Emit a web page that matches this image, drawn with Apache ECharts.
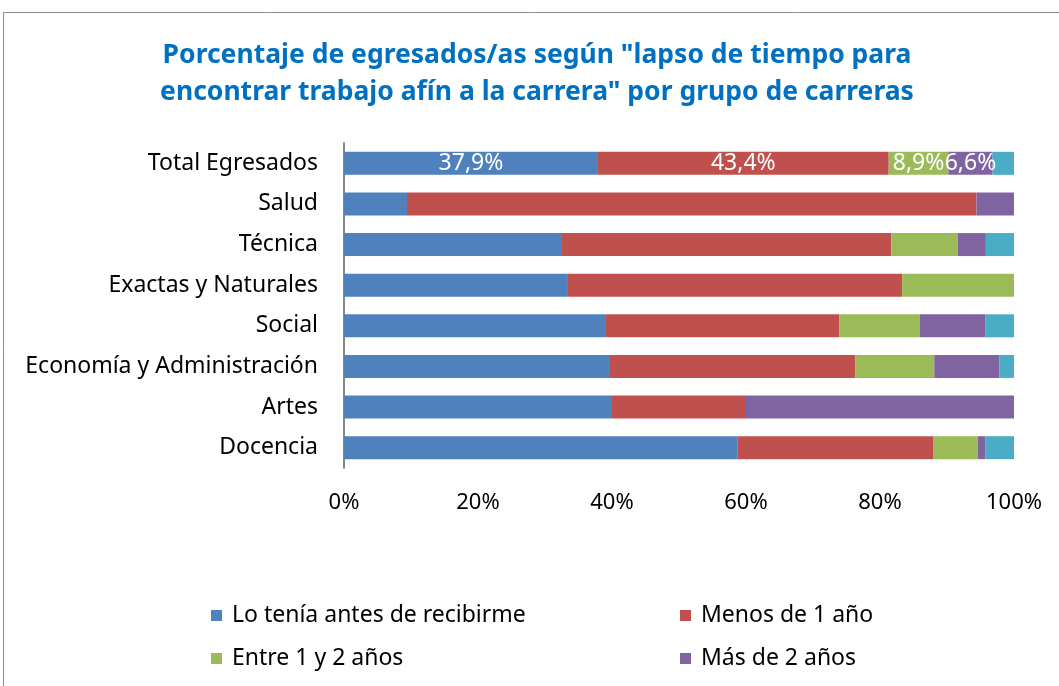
<!DOCTYPE html>
<html>
<head>
<meta charset="utf-8">
<script src="https://cdn.jsdelivr.net/npm/echarts@6/dist/echarts.min.js"></script>
<style>
  html, body { margin: 0; padding: 0; background: #fff; }
  #chart { width: 1059px; height: 686px; }
</style>
</head>
<body>
<div id="chart"></div>
<script>
// Data
var categories = ['Total Egresados', 'Salud', 'Técnica', 'Exactas y Naturales', 'Social',
    'Economía y Administración', 'Artes', 'Docencia'];
var antesRecibirme = [37.9, 9.4, 32.4, 33.3, 39.1, 39.7, 40.0, 58.7];
var menosUnAnio    = [43.4, 85.0, 49.3, 50.0, 34.8, 36.6, 20.0, 29.3];
var entreUnoYDos   = [8.9, 0, 9.9, 16.7, 12.0, 11.8, 0, 6.6];
var masDeDos       = [6.6, 5.6, 4.2, 0, 9.8, 9.7, 40.0, 1.1];
var otros          = [3.2, 0, 4.2, 0, 4.3, 2.2, 0, 4.3];
var xTicks = [0, 20, 40, 60, 80, 100];

var FONT = '"Noto Sans", sans-serif';

var chart = echarts.init(document.getElementById('chart'));

// only the first row (Total Egresados) carries value labels
function withLabels(values, labelled) {
    return values.map(function (v, i) {
        return (labelled && i === 0) ? { value: v, label: { show: true } } : v;
    });
}

function makeSeries(name, values, color, labelled) {
    return {
        name: name,
        type: 'bar',
        stack: 'total',
        barWidth: 23,
        itemStyle: { color: color },
        label: {
            show: false,
            position: 'inside',
            color: '#fff',
            fontFamily: FONT,
            fontSize: 23,
            formatter: function (p) {
                return p.value.toFixed(1).replace('.', ',') + '%';
            }
        },
        emphasis: { disabled: true },
        data: withLabels(values, labelled)
    };
}

var legendText = { fontFamily: FONT, fontSize: 23, color: '#000', padding: [0, 0, 0, 5] };

chart.setOption({
    animation: false,
    textStyle: { fontFamily: FONT },
    title: {
        text: 'Porcentaje de egresados/as según "lapso de tiempo para\nencontrar trabajo afín a la carrera" por grupo de carreras',
        left: 532,
        textAlign: 'center',
        top: 32,
        textStyle: {
            color: '#0070C0',
            fontFamily: FONT,
            fontSize: 26.5,
            fontWeight: 'bold',
            lineHeight: 37
        }
    },
    legend: [
        {
            orient: 'vertical',
            left: 206,
            top: 599,
            itemWidth: 11,
            itemHeight: 11,
            itemGap: 20,
            selectedMode: false,
            icon: 'rect',
            textStyle: legendText,
            data: ['Lo tenía antes de recibirme', 'Entre 1 y 2 años']
        },
        {
            orient: 'vertical',
            left: 675,
            top: 599,
            itemWidth: 11,
            itemHeight: 11,
            itemGap: 20,
            selectedMode: false,
            icon: 'rect',
            textStyle: legendText,
            data: ['Menos de 1 año', 'Más de 2 años']
        }
    ],
    grid: { left: 344, right: 45, top: 143, height: 325, containLabel: false },
    xAxis: {
        type: 'value',
        min: xTicks[0],
        max: xTicks[xTicks.length - 1],
        interval: 20,
        axisLine: { show: false },
        axisTick: { show: false },
        splitLine: { show: false },
        axisLabel: {
            margin: 24,
            color: '#000',
            fontFamily: FONT,
            fontSize: 22,
            formatter: '{value}%'
        }
    },
    yAxis: {
        type: 'category',
        inverse: true,
        data: categories,
        axisLine: { show: true, lineStyle: { color: '#888', width: 2 } },
        axisTick: { show: false },
        axisLabel: {
            margin: 26,
            color: '#000',
            fontFamily: FONT,
            fontSize: 23
        }
    },
    graphic: [
        {
            type: 'rect',
            shape: { x: 3.5, y: 12.5, width: 1100, height: 700 },
            style: { fill: 'none', stroke: '#8c8c8c', lineWidth: 1 },
            silent: true,
            z: -1
        }
    ],
    series: [
        makeSeries('Lo tenía antes de recibirme', antesRecibirme, '#4F81BD', true),
        makeSeries('Menos de 1 año', menosUnAnio, '#C0504D', true),
        makeSeries('Entre 1 y 2 años', entreUnoYDos, '#9BBB59', true),
        makeSeries('Más de 2 años', masDeDos, '#8064A2', true),
        makeSeries('No encontró trabajo afín', otros, '#4BACC6', false)
    ]
});
</script>
</body>
</html>
